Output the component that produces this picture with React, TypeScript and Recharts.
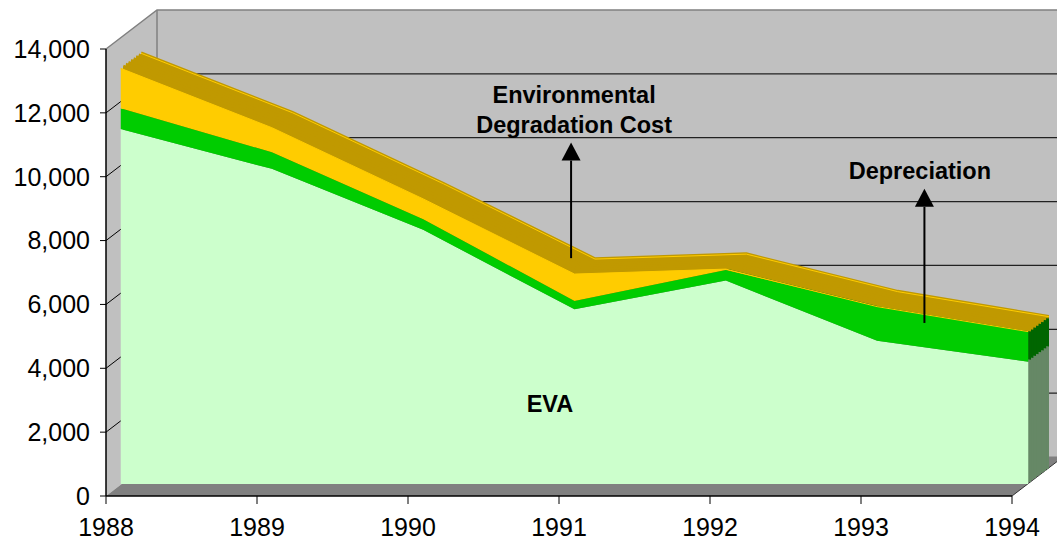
import React from "react";
import {
  ComposedChart,
  Area,
  XAxis,
  YAxis,
  ReferenceArea,
  ReferenceLine,
  ReferenceDot,
} from "recharts";

const years = [1988, 1989, 1990, 1991, 1992, 1993, 1994];
const eva = [11120, 9870, 7960, 5470, 6370, 4490, 3830];
const depreciation = [650, 520, 335, 260, 330, 1065, 940];
const envCost = [1250, 770, 635, 845, 30, 0, 0];
const yTicks = [0, 2000, 4000, 6000, 8000, 10000, 12000, 14000];
const gridValues = [2000, 4000, 6000, 8000, 10000, 12000];

// annotations, in front-axis data units
const notes = [
  { x: 1991.1, y: 12310, lines: ["Environmental", "Degradation Cost"] },
  { x: 1993.39, y: 9920, lines: ["Depreciation"] },
  { x: 1990.94, y: 2640, lines: ["EVA"] },
];
const arrows = [
  { x: 1991.08, from: 7450, to: 11070 },
  { x: 1993.42, from: 5420, to: 9620 },
];

const data = years.map((year, i) => ({
  year,
  eva: eva[i],
  dep: depreciation[i],
  env: envCost[i],
  total: eva[i] + depreciation[i] + envCost[i],
}));

const FONT = '"Liberation Sans", Arial, Helvetica, sans-serif';
const Y_MAX = yTicks[yTicks.length - 1];
const WALL_DX = 51;
const WALL_DY = -39;
const DEPTH_DX = 20.5;
const DEPTH_DY = -15;
const STEPS = 8;
// depth slices of the area block, back to front (0 = front face)
const slices = Array.from({ length: STEPS + 1 }, (_, i) => STEPS - i);

const tick = { fill: "#000", fontSize: 25, fontFamily: FONT };

// back wall, side wall and floor, drawn from the front plot rectangle
function Walls(props: any) {
  const { x, y, width: w, height: h } = props;
  const bx = x + WALL_DX;
  const by = y + WALL_DY;
  const pts = (a: number[][]) => a.map((p) => p.join(",")).join(" ");
  const level = (v: number) => y + h - (v / Y_MAX) * h;
  return (
    <g>
      <polygon points={pts([[bx, by], [bx + w + 10, by], [bx + w + 10, by + h], [bx, by + h]])} fill="#C0C0C0" />
      <polygon points={pts([[x, y], [bx, by], [bx, by + h], [x, y + h]])} fill="#C0C0C0" />
      <polygon points={pts([[x, y + h], [bx, by + h], [bx + w, by + h], [x + w, y + h]])} fill="#808080" />
      {gridValues.map((v) => {
        const ty = level(v);
        return (
          <g key={v}>
            <line x1={x} y1={ty} x2={bx} y2={ty + WALL_DY} stroke="#000" strokeWidth={1} />
            <line x1={bx} y1={ty + WALL_DY} x2={bx + w + 10} y2={ty + WALL_DY} stroke="#222" strokeWidth={1.2} />
          </g>
        );
      })}
      <polyline points={pts([[x, y], [bx, by], [bx + w + 10, by]])} fill="none" stroke="#808080" strokeWidth={1.5} />
      <line x1={bx} y1={by} x2={bx} y2={by + h} stroke="#808080" strokeWidth={1.5} />
      <line x1={bx} y1={by + h} x2={bx + w + 10} y2={by + h} stroke="#808080" strokeWidth={1} />
      <line x1={x + w} y1={y + h} x2={bx + w} y2={by + h} stroke="#333" strokeWidth={1} />
      <line x1={x} y1={y} x2={x} y2={y + h} stroke="#000" strokeWidth={1.5} />
      <line x1={x} y1={y + h} x2={x + w} y2={y + h} stroke="#000" strokeWidth={1.5} />
    </g>
  );
}

function Arrow(p: any) {
  const { x1, y1, x2, y2 } = p;
  const head = 18;
  const half = 9.5;
  return (
    <g>
      <line x1={x1} y1={y1} x2={x2} y2={y2 + head} stroke="#000" strokeWidth={2} />
      <polygon points={`${x2},${y2} ${x2 - half},${y2 + head} ${x2 + half},${y2 + head}`} fill="#000" />
    </g>
  );
}

function note(lines: string[]) {
  return (p: any) => (
    <text x={p.cx} y={p.cy} textAnchor="middle" fontFamily={FONT} fontWeight="bold" fontSize={23.5} fill="#000">
      {lines.map((s, i) => (
        <tspan key={i} x={p.cx} dy={i === 0 ? 0 : 30}>
          {s}
        </tspan>
      ))}
    </text>
  );
}

export default function App() {
  return (
    <div style={{ position: "absolute", left: 0, top: 0, width: 1057, height: 540, overflow: "hidden", background: "#fff" }}>
      <ComposedChart width={1066} height={540} data={data} margin={{ top: 10, right: 2, bottom: 14, left: 6 }}>
        <XAxis
          xAxisId="f"
          type="number"
          dataKey="year"
          domain={[1988, 1994]}
          allowDataOverflow
          ticks={years}
          interval={0}
          padding={{ left: 0, right: 52 }}
          height={30}
          tick={tick}
          tickSize={8}
          tickMargin={14}
          axisLine={false}
          tickLine={{ stroke: "#000" }}
        />
        <YAxis
          yAxisId="f"
          type="number"
          dataKey="total"
          domain={[0, Y_MAX]}
          allowDataOverflow
          ticks={yTicks}
          interval={0}
          padding={{ top: 39, bottom: 0 }}
          width={100}
          tick={tick}
          tickSize={6}
          tickMargin={10}
          axisLine={false}
          tickLine={{ stroke: "#000" }}
          tickFormatter={(v: number) => v.toLocaleString("en-US")}
        />
        {slices.map((k) => {
          const t = k / STEPS;
          return [
            <XAxis
              key={`x${k}`}
              xAxisId={`s${k}`}
              type="number"
              dataKey="year"
              domain={[1988, 1994]}
              allowDataOverflow
              hide
              padding={{ left: 14.5 + DEPTH_DX * t, right: 35.5 - DEPTH_DX * t }}
            />,
            <YAxis
              key={`y${k}`}
              yAxisId={`s${k}`}
              type="number"
              domain={[0, Y_MAX]}
              allowDataOverflow
              hide
              padding={{ top: 27 + DEPTH_DY * t, bottom: 12 - DEPTH_DY * t }}
            />,
          ];
        })}

        <ReferenceArea xAxisId="f" yAxisId="f" x1={1988} x2={1994} y1={0} y2={Y_MAX} ifOverflow="visible" shape={Walls} />

        {slices.map((k) => {
          const front = k === 0;
          const id = `s${k}`;
          return [
            <Area
              key={`eva${k}`}
              xAxisId={id}
              yAxisId={id}
              stackId={id}
              dataKey="eva"
              type="linear"
              fill={front ? "#CCFFCC" : "#668866"}
              fillOpacity={1}
              stroke="none"
              isAnimationActive={false}
            />,
            <Area
              key={`dep${k}`}
              xAxisId={id}
              yAxisId={id}
              stackId={id}
              dataKey="dep"
              type="linear"
              fill={front ? "#00CC00" : "#006600"}
              fillOpacity={1}
              stroke="none"
              isAnimationActive={false}
            />,
            <Area
              key={`env${k}`}
              xAxisId={id}
              yAxisId={id}
              stackId={id}
              dataKey="env"
              type="linear"
              fill={front ? "#FFCC00" : "#C09900"}
              fillOpacity={1}
              stroke={front ? "#FFCC00" : "#C09900"}
              strokeWidth={front ? 1 : 3.6}
              isAnimationActive={false}
            />,
            k === 1 ? (
              <Area
                key="backEdge"
                xAxisId={`s${STEPS}`}
                yAxisId={`s${STEPS}`}
                dataKey="total"
                type="linear"
                fill="none"
                stroke="#FFCC00"
                strokeWidth={1}
                isAnimationActive={false}
              />
            ) : null,
          ];
        })}

        {arrows.map((a, i) => (
          <ReferenceLine
            key={`a${i}`}
            xAxisId="f"
            yAxisId="f"
            segment={[{ x: a.x, y: a.from }, { x: a.x, y: a.to }]}
            ifOverflow="visible"
            shape={Arrow}
          />
        ))}
        {notes.map((n, i) => (
          <ReferenceDot
            key={`n${i}`}
            xAxisId="f"
            yAxisId="f"
            x={n.x}
            y={n.y}
            r={0}
            ifOverflow="visible"
            shape={note(n.lines)}
          />
        ))}
      </ComposedChart>
    </div>
  );
}
